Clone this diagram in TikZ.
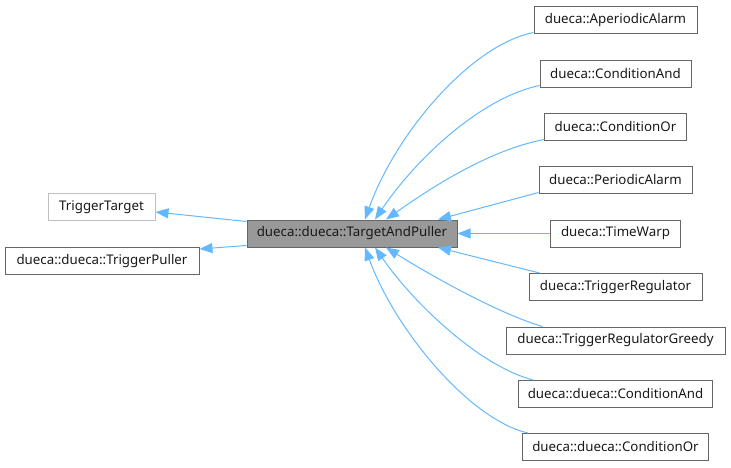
\documentclass[tikz,border=0pt]{standalone}
\usepackage{fontspec}
\setmainfont{Noto Sans}
\usetikzlibrary{arrows.meta}
\definecolor{edgeblue}{HTML}{63B8FF}
\definecolor{boxgray}{HTML}{666666}
\definecolor{lightgray}{HTML}{BFBFBF}
\definecolor{fillgray}{HTML}{999999}
\tikzset{
  cls/.style={draw=boxgray, fill=white, line width=1pt, rectangle, minimum height=27pt, inner sep=0pt, font=\fontsize{13.3pt}{15pt}\selectfont, text=black!90},
  extcls/.style={cls, draw=lightgray},
  maincls/.style={cls, fill=fillgray},
  edge/.style={draw=edgeblue, line width=1pt, -{Triangle[length=13pt,width=10pt,fill=edgeblue]}}
}
\begin{document}
\begin{tikzpicture}[x=1pt,y=-1pt]
\useasboundingbox (0,0) rectangle (731,467);
\node[maincls, minimum width=210pt] (c) at (352,233.5) {dueca::dueca::TargetAndPuller};
\node[extcls, minimum width=107pt] (tt) at (101.5,207) {TriggerTarget};
\node[cls, minimum width=194pt] (tp) at (102,261) {dueca::dueca::TriggerPuller};

\node[cls, minimum width=163pt] (a1) at (615.5,20) {dueca::AperiodicAlarm};
\node[cls, minimum width=151pt] (a2) at (615.5,73.5) {dueca::ConditionAnd};
\node[cls, minimum width=142pt] (a3) at (615.5,127) {dueca::ConditionOr};
\node[cls, minimum width=153pt] (a4) at (615.5,180) {dueca::PeriodicAlarm};
\node[cls, minimum width=130pt] (a5) at (615.5,233.5) {dueca::TimeWarp};
\node[cls, minimum width=173pt] (a6) at (615.5,287) {dueca::TriggerRegulator};
\node[cls, minimum width=219pt] (a7) at (615.5,340.5) {dueca::TriggerRegulatorGreedy};
\node[cls, minimum width=194pt] (a8) at (615.5,394) {dueca::dueca::ConditionAnd};
\node[cls, minimum width=186pt] (a9) at (615.5,447) {dueca::dueca::ConditionOr};

% left edges
\draw[edge] ([yshift=-2pt]c.north west) -- ([yshift=-5pt]tt.east);
\draw[edge] ([yshift=2pt]c.south west) -- ([yshift=-2pt]tp.north east);

% right edges
\draw[edge] ([yshift=1.5pt]a1.south west) .. controls (470,45) and (395,135) .. ([xshift=13pt]c.north);
\draw[edge] ([yshift=2pt]a2.south west) .. controls (480,98) and (415,160) .. ([xshift=23pt]c.north);
\draw[edge] ([xshift=0pt,yshift=1.5pt]a3.south west) .. controls (490,150) and (435,185) .. ([xshift=34pt]c.north);
\draw[edge] ([yshift=1.5pt]a4.south west) -- ([xshift=86pt]c.north);
\draw[edge] (a5.west) -- (c.east);
\draw[edge] ([xshift=11pt]a6.north west) -- ([xshift=86pt]c.south);
\draw[edge] ([xshift=37pt]a7.north west) .. controls (500,314) and (435,278) .. ([xshift=34pt]c.south);
\draw[edge] ([xshift=15pt]a8.north west) .. controls (480,366) and (415,305) .. ([xshift=23pt]c.south);
\draw[edge] ([xshift=6pt]a9.north west) .. controls (470,420) and (395,330) .. ([xshift=13pt]c.south);
\end{tikzpicture}
\end{document}
